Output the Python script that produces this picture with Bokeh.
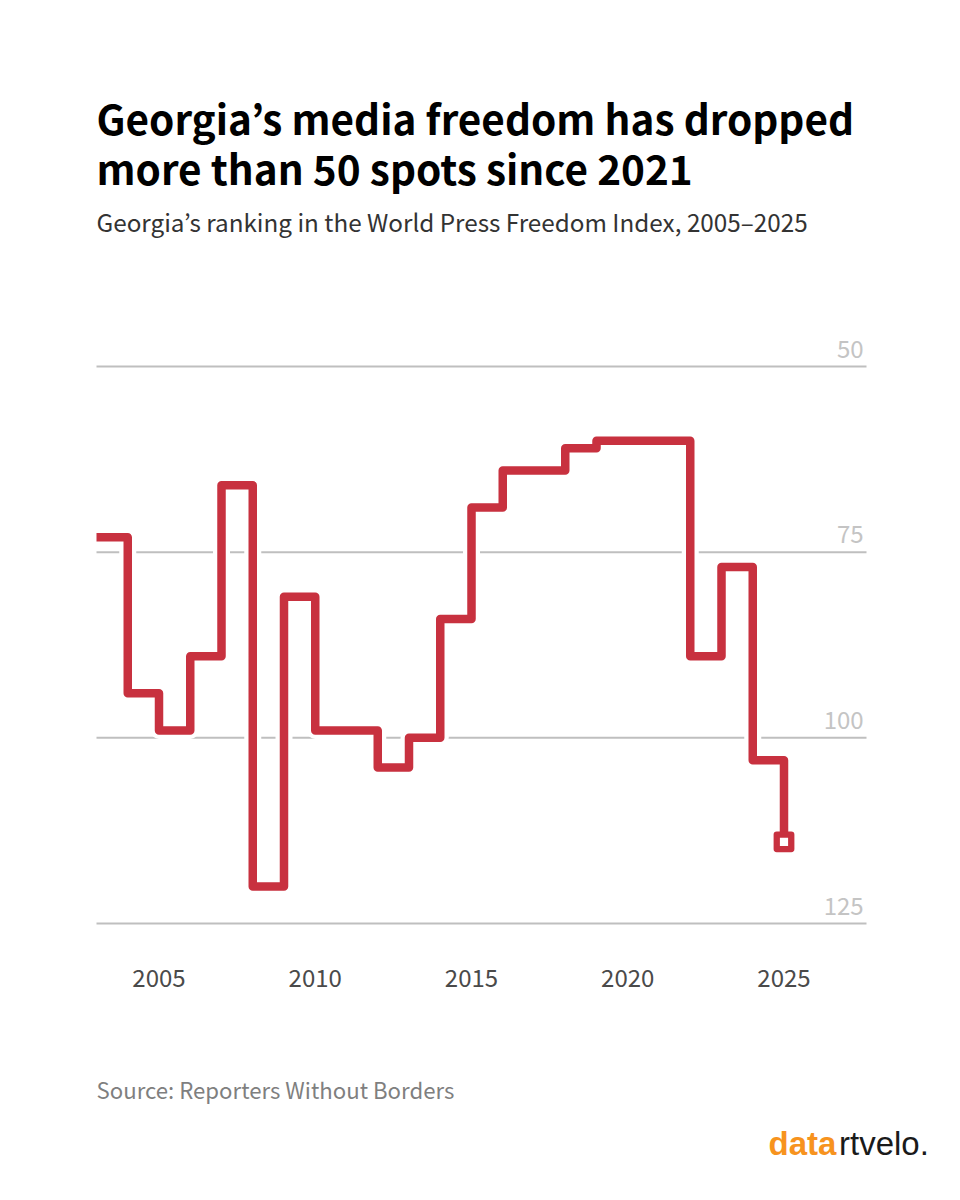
from bokeh.core.properties import value
from bokeh.embed import file_html
from bokeh.models import ColumnDataSource, FixedTicker, Label, Range1d
from bokeh.plotting import figure
from bokeh.resources import INLINE

years = [2003, 2004, 2005, 2006, 2007, 2008, 2009, 2010, 2011, 2012, 2013, 2014,
         2015, 2016, 2017, 2018, 2019, 2020, 2021, 2022, 2023, 2024, 2025]
ranks = [73, 94, 99, 89, 66, 120, 81, 99, 99, 104, 100, 84,
         69, 64, 64, 61, 60, 60, 60, 89, 77, 103, 114]
x_ticks = [2005, 2010, 2015, 2020, 2025]
y_ticks = [50, 75, 100, 125]

FONT = "Noto Sans CJK KR"
RED = "#c8313f"

W, H = 944, 1184
PX_X, PX_Y = 31.25, 7.427   # pixels per year / per rank
X0, Y0 = 96, 366            # picture position of 2003 and of rank 50
x_start, x_end = 2003 - X0 / PX_X, 2003 + (W - X0) / PX_X
y_top, y_bottom = 50 - Y0 / PX_Y, 50 + (H - Y0) / PX_Y
x_right = 2003 + (866 - X0) / PX_X

p = figure(width=W, height=H, output_backend="svg", toolbar_location=None,
           x_range=Range1d(x_start, x_end), y_range=Range1d(y_bottom, y_top),
           min_border=0, outline_line_color=None,
           background_fill_color="white", border_fill_color="white")

p.grid.visible = False
p.yaxis.visible = False

ax = p.xaxis[0]
ax.fixed_location = 128
ax.ticker = FixedTicker(ticks=x_ticks)
ax.axis_line_color = None
ax.major_tick_line_color = None
ax.minor_tick_line_color = None
ax.major_label_text_font = FONT
ax.major_label_text_font_size = "24px"
ax.major_label_text_color = "#4a4a4a"
ax.major_label_standoff = 17

p.segment([2003] * len(y_ticks), y_ticks, [x_right] * len(y_ticks), y_ticks,
          line_color="#bfbfbf", line_width=2)

src = ColumnDataSource(dict(x=years, y=ranks))
p.step("x", "y", source=src, mode="after", line_color="white", line_width=17, line_join="round")
p.step("x", "y", source=src, mode="after", line_color=RED, line_width=8.5, line_join="round")
p.scatter(years[-1:], ranks[-1:], marker="square", size=14.5, fill_color="white",
          line_color=RED, line_width=6.3, line_join="round")

p.text([x_right - 0.09] * len(y_ticks), y_ticks, text=[str(t) for t in y_ticks], text_align="right",
       text_baseline="alphabetic", y_offset=-18, text_font=value(FONT), text_font_size=value("24px"),
       text_color="#c4c4c4")


def label(text, x, y, size, color, style="normal", font=FONT):
    p.add_layout(Label(x=x, y=H - y, x_units="screen", y_units="screen", text=text,
                       text_font=font, text_font_size=size, text_color=color,
                       text_font_style=style, text_baseline="alphabetic"))


label("Georgia’s media freedom has dropped", 96, 117, "40.5px", "#000000", "bold")
label("more than 50 spots since 2021", 96, 167, "40.5px", "#000000", "bold")
label("Georgia’s ranking in the World Press Freedom Index, 2005–2025", 96, 221, "24.25px", "#333333")
label("Source: Reporters Without Borders", 96, 1088, "22.2px", "#7f7f7f")
label("data", 768, 1143, "33px", "#f7931e", "bold", "Liberation Sans")
label("rtvelo.", 838.5, 1143, "33px", "#1a1a1a", "normal", "Liberation Sans")

open("out.html", "w").write(file_html(p, INLINE))
